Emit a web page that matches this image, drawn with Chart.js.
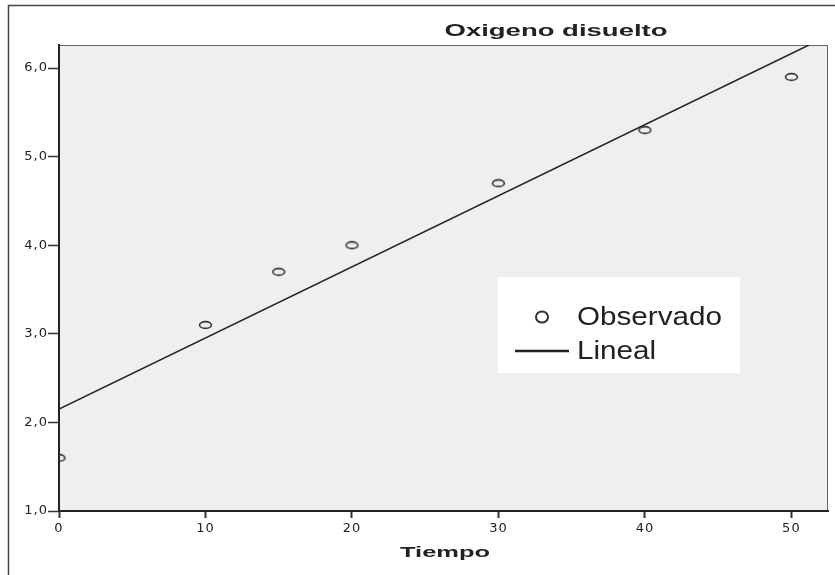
<!DOCTYPE html>
<html>
<head>
<meta charset="utf-8">
<script src="https://cdn.jsdelivr.net/npm/chart.js@4/dist/chart.umd.min.js"></script>
<style>
  html, body { margin: 0; padding: 0; background: #fff; }
  #wrap { position: relative; width: 835px; height: 575px; }
</style>
</head>
<body>
<div id="wrap"><canvas id="chart"></canvas></div>
<script>
// Observed points (Tiempo vs oxigeno disuelto)
const tiempo = [0, 10, 15, 20, 30, 40, 50];
const oxigeno = [1.6, 3.1, 3.7, 4.0, 4.7, 5.3, 5.9];

// Linear fit, end points
const linealX = [0, 51.2];
const linealY = [2.15, 6.26];

// Axis ticks
const xTicks = [0, 10, 20, 30, 40, 50];
const yTicks = [1, 2, 3, 4, 5, 6];

const titleText = 'Oxigeno disuelto';
const xTitleText = 'Tiempo';
const legendLabels = ['Observado', 'Lineal'];

const ink = '#222';

// open ellipse used as point marker
function ellipseMarker(w, h, lw) {
  const c = document.createElement('canvas');
  c.width = w; c.height = h;
  const g = c.getContext('2d');
  g.strokeStyle = '#333';
  g.lineWidth = lw;
  g.beginPath();
  g.ellipse(w / 2, h / 2, w / 2 - lw, h / 2 - lw, 0, 0, Math.PI * 2);
  g.stroke();
  return c;
}

// draws text stretched horizontally
function stretchedText(ctx, text, x, y, font, sx, align) {
  ctx.save();
  ctx.font = font;
  ctx.fillStyle = ink;
  ctx.textBaseline = 'middle';
  ctx.textAlign = 'left';
  const w = ctx.measureText(text).width * sx;
  const left = align === 'center' ? x - w / 2 : x;
  ctx.translate(left, y);
  ctx.scale(sx, 1);
  ctx.fillText(text, 0, 0);
  ctx.restore();
}

function scaleFor(ctx, text, font, target) {
  ctx.save();
  ctx.font = font;
  const w = ctx.measureText(text).width;
  ctx.restore();
  return target / w;
}

const spssPlugin = {
  id: 'spss',
  beforeDraw(chart) {
    const ctx = chart.ctx;
    const a = chart.chartArea;
    ctx.save();
    // outer frame (left and top edges only visible)
    ctx.strokeStyle = '#444';
    ctx.lineWidth = 1.5;
    ctx.beginPath();
    ctx.moveTo(8.5, 575);
    ctx.lineTo(8.5, 5.5);
    ctx.lineTo(835, 5.5);
    ctx.stroke();
    // plot background + thin frame
    ctx.fillStyle = '#efefef';
    ctx.fillRect(a.left, a.top, a.right - a.left, a.bottom - a.top);
    ctx.strokeStyle = '#666';
    ctx.lineWidth = 1;
    ctx.strokeRect(a.left + 0.5, a.top + 0.5, a.right - a.left - 1, a.bottom - a.top);
    ctx.restore();
    // wider tick labels, like the original
    ctx.letterSpacing = '1px';
  },
  afterDraw(chart) {
    const ctx = chart.ctx;
    ctx.letterSpacing = '0px';

    // title
    const tf = 'bold 17px "Liberation Sans", Arial, sans-serif';
    stretchedText(ctx, titleText, 556, 31, tf, scaleFor(ctx, titleText, tf, 223), 'center');

    // x axis title
    const xf = 'bold 15px "Liberation Sans", Arial, sans-serif';
    stretchedText(ctx, xTitleText, 445, 553, xf, scaleFor(ctx, xTitleText, xf, 90), 'center');

    // legend box
    ctx.save();
    ctx.fillStyle = '#fff';
    ctx.fillRect(498, 277, 242, 96);
    ctx.strokeStyle = '#333';
    ctx.lineWidth = 2;
    ctx.beginPath();
    ctx.ellipse(542, 317, 6, 5.5, 0, 0, Math.PI * 2);
    ctx.stroke();
    ctx.strokeStyle = ink;
    ctx.lineWidth = 2.5;
    ctx.beginPath();
    ctx.moveTo(515, 351);
    ctx.lineTo(569, 351);
    ctx.stroke();
    ctx.restore();

    const lf = '26px "Liberation Sans", Arial, sans-serif';
    const ls = scaleFor(ctx, legendLabels[0], lf, 145);
    stretchedText(ctx, legendLabels[0], 577, 318, lf, ls, 'left');
    stretchedText(ctx, legendLabels[1], 577, 352, lf, ls, 'left');
  }
};

const tickFont = { family: '"DejaVu Sans", sans-serif', size: 13 };

new Chart(document.getElementById('chart').getContext('2d'), {
  type: 'scatter',
  data: {
    datasets: [
      {
        label: legendLabels[0],
        data: tiempo.map((t, i) => ({ x: t, y: oxigeno[i] })),
        pointStyle: ellipseMarker(15, 10, 1.6),
        pointRadius: 6,
        showLine: false
      },
      {
        label: legendLabels[1],
        data: linealX.map((t, i) => ({ x: t, y: linealY[i] })),
        showLine: true,
        borderColor: ink,
        borderWidth: 1.5,
        pointRadius: 0
      }
    ]
  },
  options: {
    responsive: true,
    maintainAspectRatio: false,
    animation: false,
    events: [],
    layout: { padding: { top: 45, right: 5, left: 0, bottom: 0 } },
    plugins: {
      legend: { display: false },
      title: { display: false },
      tooltip: { enabled: false }
    },
    scales: {
      x: {
        type: 'linear',
        min: 0,
        max: 52.5,
        afterBuildTicks: s => { s.ticks = xTicks.map(v => ({ value: v })); },
        afterFit: s => { s.height = 64; },
        border: { display: true, color: ink, width: 2 },
        grid: { drawOnChartArea: false, drawTicks: true, tickLength: 7, tickWidth: 2, tickColor: '#333' },
        ticks: { font: tickFont, color: ink, padding: 3, maxRotation: 0, callback: v => String(v) }
      },
      y: {
        type: 'linear',
        min: 1,
        max: 6.26,
        afterBuildTicks: s => { s.ticks = yTicks.map(v => ({ value: v })); },
        afterFit: s => { s.width = 59; },
        border: { display: true, color: ink, width: 2 },
        grid: { drawOnChartArea: false, drawTicks: true, tickLength: 11, tickWidth: 1.5, tickColor: '#333' },
        ticks: { font: tickFont, color: ink, padding: 0, callback: v => v.toFixed(1).replace('.', ',') }
      }
    }
  },
  plugins: [spssPlugin]
});
</script>
</body>
</html>
